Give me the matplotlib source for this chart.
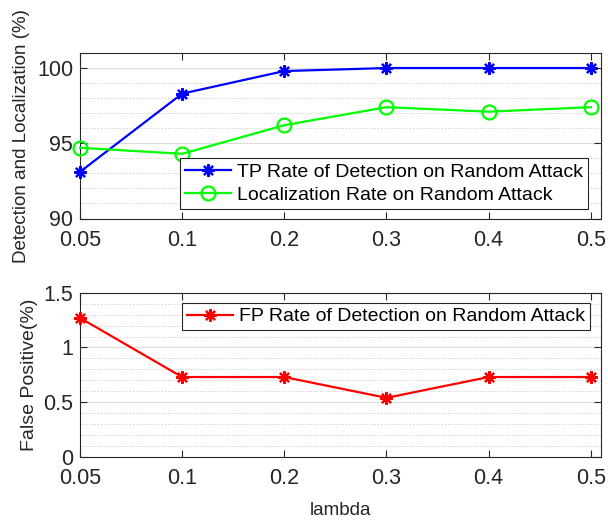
import matplotlib
matplotlib.use("Agg")
import matplotlib.pyplot as plt
from matplotlib.ticker import MultipleLocator

plt.rcParams['font.family'] = ['Liberation Sans', 'DejaVu Sans']

lambdas = ["0.05", "0.1", "0.2", "0.3", "0.4", "0.5"]
tp_rate = [93.1, 98.3, 99.8, 100.0, 100.0, 100.0]
loc_rate = [94.7, 94.3, 96.2, 97.4, 97.1, 97.4]
fp_rate = [1.27, 0.73, 0.73, 0.54, 0.73, 0.73]

top_yticks = [90, 95, 100]
top_yticklabels = ["90", "95", "100"]
bot_yticks = [0, 0.5, 1, 1.5]
bot_yticklabels = ["0", "0.5", "1", "1.5"]

spine_col = "#262626"
txt_col = "#262626"
star = (8, 2, 0)

W, H = 608, 521
fig = plt.figure(figsize=(W / 100, H / 100), dpi=100)
# axes boxes in pixel units: left, right, top, bottom
ax1 = fig.add_axes([80 / W, 1 - 218.5 / H, 521 / W, 165.5 / H])
ax2 = fig.add_axes([80 / W, 1 - 457 / H, 521 / W, 164.3 / H])


def style(ax, yticks, ylabels, minor_step):
    ax.set_xlim(0, len(lambdas) - 1 + 0.1)
    ax.set_yticks(yticks)
    ax.set_yticklabels(ylabels)
    ax.yaxis.set_minor_locator(MultipleLocator(minor_step))
    ax.grid(True, which="major", axis="y", color="#dcdcdc", lw=0.8, ls="-")
    ax.grid(True, which="minor", axis="y", color="#c4c4c4", lw=0.7, ls=(0, (1, 2)))
    ax.set_axisbelow(True)
    ax.tick_params(which="major", direction="in", top=True, right=True,
                   length=5, width=0.8, color=spine_col, labelsize=15.5,
                   labelcolor=txt_col)
    ax.tick_params(axis="x", which="major", pad=8)
    ax.tick_params(axis="y", which="major", pad=5)
    ax.tick_params(which="minor", length=0)
    for s in ax.spines.values():
        s.set_color(spine_col)
        s.set_linewidth(0.8)


def add_legend(ax, loc, anchor):
    leg = ax.legend(loc=loc, bbox_to_anchor=anchor, fontsize=14, fancybox=False,
                    framealpha=1, edgecolor=spine_col, handlelength=2.4,
                    borderaxespad=0, borderpad=0.25, labelspacing=0.3,
                    handletextpad=0.3)
    leg.get_frame().set_linewidth(0.8)
    return leg


ax1.plot(lambdas, tp_rate, color="blue", lw=1.6, marker=star, ms=9, mew=1.6,
         label="TP Rate of Detection on Random Attack", clip_on=False, zorder=3)
ax1.plot(lambdas, loc_rate, color="#00ff00", lw=1.6, marker="o", ms=10, mew=1.6,
         mfc="none", label="Localization Rate on Random Attack", clip_on=False, zorder=3)
ax1.set_ylim(90, 101)
style(ax1, top_yticks, top_yticklabels, 1)
ax1.set_ylabel("Detection and Localization (%)", fontsize=13.5, color=txt_col, labelpad=5)
add_legend(ax1, "lower right", ((588 - 80) / 521, (218.5 - 209) / 165.5))

ax2.plot(lambdas, fp_rate, color="red", lw=1.6, marker=star, ms=9, mew=1.6,
         label="FP Rate of Detection on Random Attack", clip_on=False, zorder=3)
ax2.set_ylim(0, 1.5)
style(ax2, bot_yticks, bot_yticklabels, 0.1)
ax2.set_ylabel("False Positive(%)", fontsize=14, color=txt_col, labelpad=4)
ax2.set_xlabel("lambda", fontsize=13.5, color=txt_col, labelpad=9)
add_legend(ax2, "upper right", ((590 - 80) / 521, (457 - 303) / 164.3))

fig.savefig("out.png", dpi=100)
